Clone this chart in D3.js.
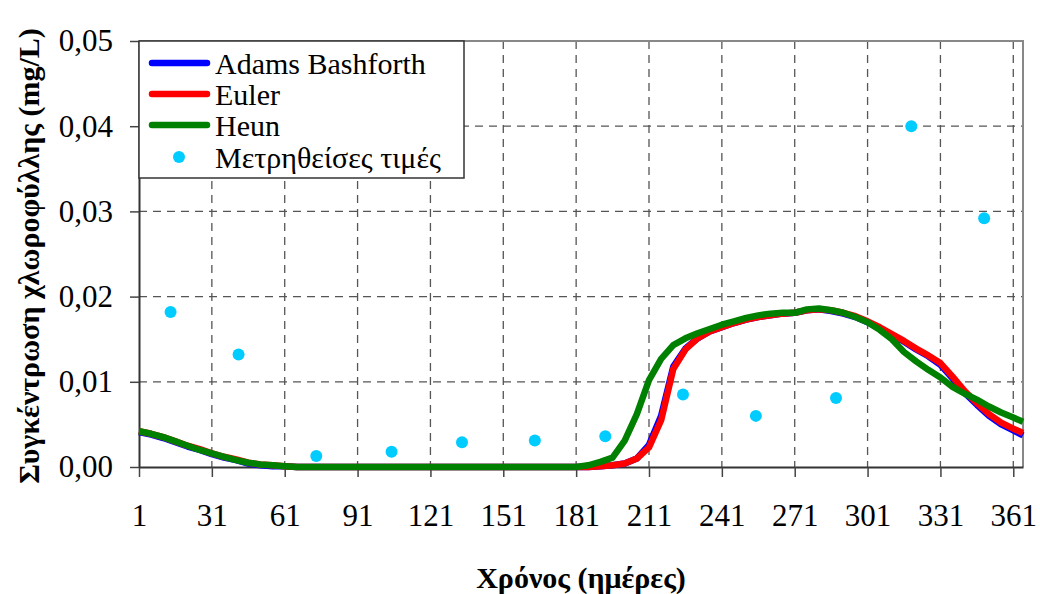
<!DOCTYPE html>
<html>
<head>
<meta charset="utf-8">
<script src="https://cdn.jsdelivr.net/npm/d3@7"></script>
<style>
  body { margin: 0; background: #fff; }
  svg text { font-family: "Liberation Serif", Times, "Times New Roman", "DejaVu Serif", serif !important; fill: #000; }
</style>
</head>
<body>
<script>
// days sampled for the model curves
var days = [1, 6, 11, 16, 21, 26, 31, 36, 41, 46, 51, 56, 61, 66, 71, 76, 81, 86, 91, 96,
  101, 106, 111, 116, 121, 126, 131, 136, 141, 146, 151, 156, 161, 166, 171, 176, 181, 186,
  191, 196, 201, 206, 211, 216, 221, 226, 231, 236, 241, 246, 251, 256, 261, 266, 271, 276,
  281, 286, 291, 296, 301, 306, 311, 316, 321, 326, 331, 336, 341, 346, 351, 356, 361, 365];

var adams = [0.0041, 0.0038, 0.0034, 0.0029, 0.0024, 0.0020, 0.0015, 0.0011, 0.0008, 0.0004, 0.0002, 0.0001, 0.0001, 0,
  0, 0, 0, 0, 0, 0, 0, 0, 0, 0, 0, 0, 0, 0, 0, 0, 0, 0, 0, 0, 0, 0, 0, 0,
  0.0001, 0.0002, 0.0004, 0.0010, 0.0026, 0.0060, 0.0118, 0.0139, 0.0151, 0.0159, 0.0164, 0.0169, 0.0173, 0.0176, 0.0178, 0.0180, 0.0181, 0.0184,
  0.0185, 0.0183, 0.0180, 0.0176, 0.0170, 0.0163, 0.0155, 0.0147, 0.0138, 0.0130, 0.0120, 0.0104, 0.0087, 0.0073, 0.0060, 0.0050, 0.0043, 0.0037];

var euler = [0.0042, 0.0039, 0.0035, 0.0030, 0.0025, 0.0021, 0.0016, 0.0012, 0.0009, 0.0005, 0.0003, 0.0002, 0.0001, 0,
  0, 0, 0, 0, 0, 0, 0, 0, 0, 0, 0, 0, 0, 0, 0, 0, 0, 0, 0, 0, 0, 0, 0, 0,
  0.0001, 0.0002, 0.0004, 0.0010, 0.0023, 0.0055, 0.0115, 0.0138, 0.0151, 0.0159, 0.0164, 0.0169, 0.0173, 0.0176, 0.0178, 0.0180, 0.0181, 0.0184,
  0.0185, 0.0184, 0.0181, 0.0177, 0.0171, 0.0164, 0.0156, 0.0148, 0.0139, 0.0131, 0.0122, 0.0106, 0.0089, 0.0075, 0.0062, 0.0052, 0.0045, 0.0040];

var heun = [0.0042, 0.0039, 0.0035, 0.0030, 0.0025, 0.0020, 0.0016, 0.0012, 0.0008, 0.0005, 0.0003, 0.0002, 0.0001, 0,
  0, 0, 0, 0, 0, 0, 0, 0, 0, 0, 0, 0, 0, 0, 0, 0, 0, 0, 0, 0, 0, 0, 0, 0.0002,
  0.0006, 0.0011, 0.0031, 0.0062, 0.0102, 0.0127, 0.0143, 0.0151, 0.0157, 0.0162, 0.0167, 0.0171, 0.0175, 0.0178, 0.0180, 0.0181, 0.0181, 0.0185,
  0.0186, 0.0184, 0.0181, 0.0176, 0.0170, 0.0161, 0.0150, 0.0135, 0.0124, 0.0114, 0.0105, 0.0094, 0.0086, 0.0079, 0.0071, 0.0064, 0.0058, 0.0053];

// measured values
var obsDays = [14, 42, 74, 105, 134, 164, 193, 225, 255, 288, 319, 349];
var obsValues = [0.0182, 0.0132, 0.0013, 0.0018, 0.0029, 0.0031, 0.0036, 0.0085, 0.0060, 0.0081, 0.0400, 0.0292];

var xTicks = [1, 31, 61, 91, 121, 151, 181, 211, 241, 271, 301, 331, 361];
var yTicks = [0, 0.01, 0.02, 0.03, 0.04, 0.05];

var seriesNames = ["Adams Bashforth", "Euler", "Heun"];
var obsName = "Μετρηθείσες τιμές";
var xTitle = "Χρόνος (ημέρες)";
var yTitle = "Συγκέντρωση χλωροφύλλης (mg/L)";

var width = 1040, height = 594;
var plotL = 139, plotR = 1023, plotT = 41, plotB = 467;
var serif = "'Liberation Serif', Times, 'Times New Roman', serif";

var x = d3.scaleLinear().domain([1, 365]).range([plotL, plotR]);
var y = d3.scaleLinear().domain([0, 0.05]).range([plotB, plotT]);

var colors = ["#0000ff", "#ff0000", "#008000"];
var series = [adams, euler, heun];

var svg = d3.select("body").append("svg")
    .attr("width", width)
    .attr("height", height)
    .attr("font-family", serif);

// grid
svg.append("g").selectAll("line")
    .data(yTicks.filter(function(d) { return d > 0 && d < 0.05; }))
  .enter().append("line")
    .attr("x1", plotL).attr("x2", plotR)
    .attr("y1", function(d) { return y(d); }).attr("y2", function(d) { return y(d); })
    .attr("stroke", "#555").attr("stroke-width", 1.3).attr("stroke-dasharray", "8,6");
svg.append("g").selectAll("line")
    .data(xTicks.slice(1))
  .enter().append("line")
    .attr("x1", function(d) { return x(d); }).attr("x2", function(d) { return x(d); })
    .attr("y1", plotT).attr("y2", plotB)
    .attr("stroke", "#555").attr("stroke-width", 1.3).attr("stroke-dasharray", "8,6");

// top / right border
svg.append("path")
    .attr("d", "M" + plotL + "," + plotT + "H" + plotR + "V" + plotB)
    .attr("fill", "none").attr("stroke", "#888").attr("stroke-width", 2);

// axes
var fmt = function(d) { return d3.format(".2f")(d).replace(".", ","); };
var xAxis = svg.append("g")
    .attr("transform", "translate(0," + plotB + ")")
    .call(d3.axisBottom(x).tickValues(xTicks).tickSize(10).tickSizeOuter(0));
xAxis.attr("font-family", serif).attr("font-size", 31);
xAxis.selectAll("text").attr("y", 59).attr("dy", "0");

var yAxis = svg.append("g")
    .attr("transform", "translate(" + plotL + ",0)")
    .call(d3.axisLeft(y).tickValues(yTicks).tickFormat(fmt).tickSize(9).tickSizeOuter(0));
yAxis.attr("font-family", serif).attr("font-size", 31);
yAxis.selectAll("text").attr("x", -26);

svg.selectAll(".domain").attr("stroke", "#333").attr("stroke-width", 2);
svg.selectAll(".tick line").attr("stroke", "#444").attr("stroke-width", 1.5);

// model curves
var line = d3.line()
    .x(function(d, i) { return x(days[i]); })
    .y(function(d) { return y(d); });

svg.append("g").selectAll("path")
    .data(series)
  .enter().append("path")
    .attr("d", line)
    .attr("fill", "none")
    .attr("stroke", function(d, i) { return colors[i]; })
    .attr("stroke-width", 6.5)
    .attr("stroke-linejoin", "round");

// measured points
svg.append("g").selectAll("circle")
    .data(obsValues)
  .enter().append("circle")
    .attr("cx", function(d, i) { return x(obsDays[i]); })
    .attr("cy", function(d) { return y(d); })
    .attr("r", 6)
    .attr("fill", "#00ccff");

// legend
var legend = svg.append("g").attr("font-size", 30);
legend.append("rect")
    .attr("x", plotL).attr("y", plotT).attr("width", 325).attr("height", 137)
    .attr("fill", "#fff").attr("stroke", "#333").attr("stroke-width", 1.5);
var rowY = [63, 94, 125, 157];
seriesNames.forEach(function(name, i) {
  legend.append("line")
      .attr("x1", 152).attr("x2", 207)
      .attr("y1", rowY[i]).attr("y2", rowY[i])
      .attr("stroke", colors[i]).attr("stroke-width", 6.5).attr("stroke-linecap", "round");
  legend.append("text")
      .attr("x", 215).attr("y", rowY[i]).attr("dy", "0.35em")
      .text(name);
});
legend.append("circle").attr("cx", 179).attr("cy", rowY[3]).attr("r", 6).attr("fill", "#00ccff");
legend.append("text")
    .attr("x", 215).attr("y", rowY[3]).attr("dy", "0.35em")
    .text(obsName);

// titles
svg.append("text")
    .attr("x", 581).attr("y", 577).attr("dy", "0.35em")
    .attr("text-anchor", "middle").attr("font-size", 30).attr("font-weight", "bold")
    .text(xTitle);
svg.append("text")
    .attr("transform", "translate(28,256) rotate(-90)")
    .attr("dy", "0.35em")
    .attr("text-anchor", "middle").attr("font-size", 30).attr("font-weight", "bold")
    .text(yTitle);
</script>
</body>
</html>
